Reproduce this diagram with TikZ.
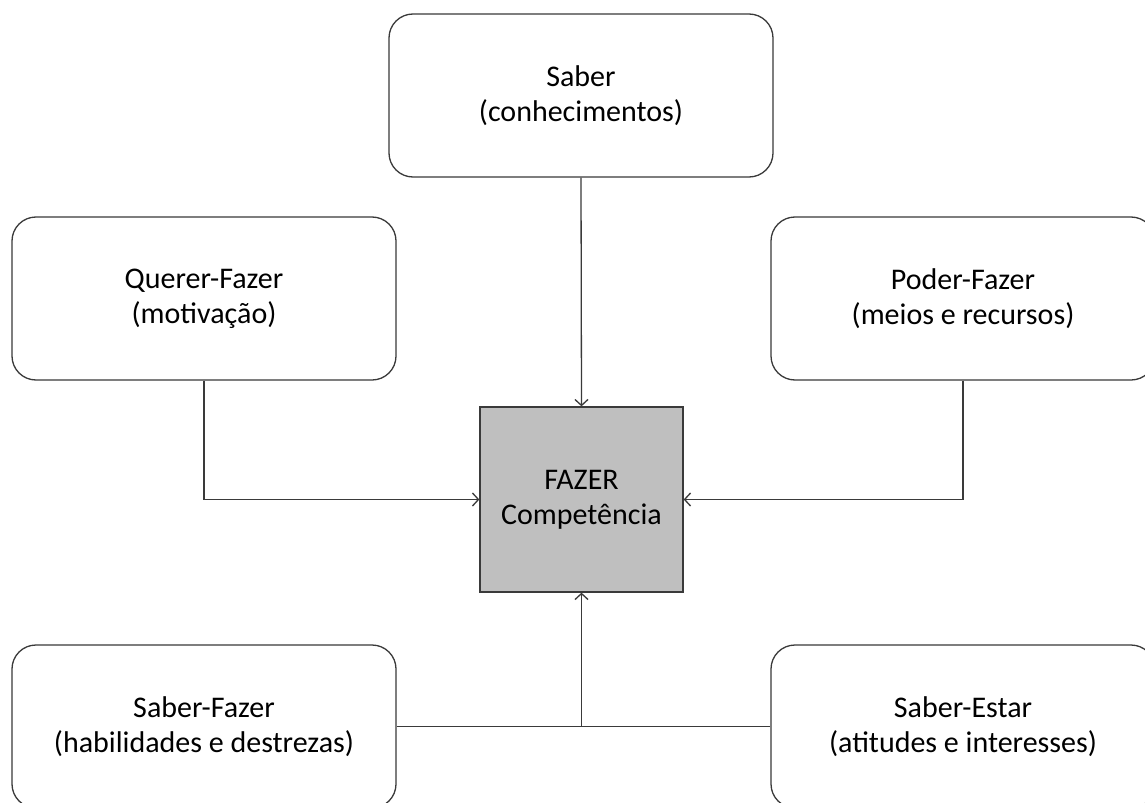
\documentclass[tikz,border=0pt]{standalone}
\usepackage{fontspec}
\setmainfont{Carlito}
\usetikzlibrary{arrows.meta}
\definecolor{ln}{HTML}{3A3A3A}
\definecolor{boxfill}{HTML}{BFBFBF}
\tikzset{
  rbox/.style={draw=ln, line width=1.3bp, rounded corners=24bp, inner sep=0pt,
    minimum width=384bp, minimum height=163bp, align=center, fill=white,
    font=\fontsize{30bp}{35bp}\selectfont},
  cbox/.style={draw=ln, line width=1.3bp, fill=boxfill, inner sep=0pt,
    minimum width=203bp, minimum height=185bp, align=center,
    font=\fontsize{30bp}{35bp}\selectfont},
  conn/.style={draw=ln, line width=1.3bp},
  arr/.style={conn, -{Straight Barb[length=6bp,width=13bp,line width=1.3bp]}}
}
\begin{document}
\begin{tikzpicture}[x=1bp,y=-1bp]
\clip (0,0) rectangle (1145,803);
\fill[white] (0,0) rectangle (1145,803);
\node[rbox] (saber) at (581,95.5) {Saber\\(conhecimentos)};
\node[rbox] (querer) at (204,298.5) {Querer-Fazer\\(motivação)};
\node[rbox] (poder) at (963,298.5) {Poder-Fazer\\(meios e recursos)};
\node[cbox] (fazer) at (581.5,499.5) {FAZER\\Competência};
\node[rbox] (sfazer) at (204,726.5) {Saber-Fazer\\(habilidades e destrezas)};
\node[rbox] (sestar) at (963,726.5) {Saber-Estar\\(atitudes e interesses)};
\coordinate (junc) at (fazer.south |- sfazer.east);
\draw[arr] (saber.south) -- (fazer.north);
\draw[arr] (querer.south) |- (fazer.west);
\draw[arr] (poder.south) |- (fazer.east);
\draw[conn] (sfazer.east) -- (sestar.west);
\draw[arr] (junc) -- (fazer.south);
\end{tikzpicture}
\end{document}
